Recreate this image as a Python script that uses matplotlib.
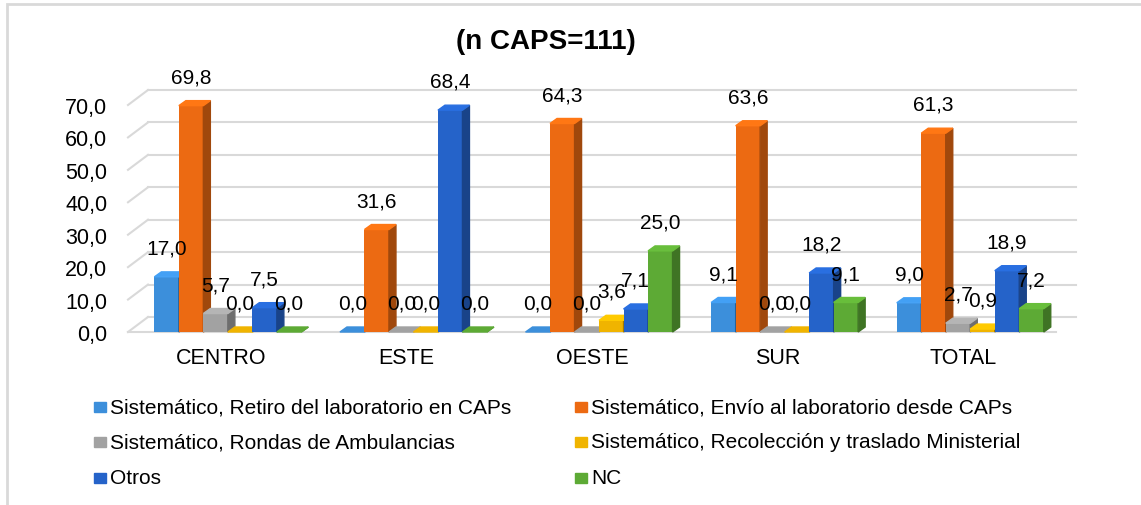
import matplotlib.pyplot as plt
from matplotlib.patches import Polygon, Rectangle
from matplotlib.transforms import offset_copy
import matplotlib.colors as mcolors
import numpy as np

plt.rcParams['font.family'] = ['Liberation Sans', 'DejaVu Sans']

# datos
regiones = ["CENTRO", "ESTE", "OESTE", "SUR", "TOTAL"]
series = [
    "Sistemático, Retiro del laboratorio en CAPs",
    "Sistemático, Envío al laboratorio desde CAPs",
    "Sistemático, Rondas de Ambulancias",
    "Sistemático, Recolección y traslado Ministerial",
    "Otros",
    "NC",
]
retiro = [17.0, 0.0, 0.0, 9.1, 9.0]
envio = [69.8, 31.6, 64.3, 63.6, 61.3]
rondas = [5.7, 0.0, 0.0, 0.0, 2.7]
recoleccion = [0.0, 0.0, 3.6, 0.0, 0.9]
otros = [7.5, 68.4, 7.1, 18.2, 18.9]
nc = [0.0, 0.0, 25.0, 9.1, 7.2]
valores = [retiro, envio, rondas, recoleccion, otros, nc]
yticks = [0, 10, 20, 30, 40, 50, 60, 70]

colores = ["#3C8FDB", "#EC6A12", "#A2A2A2", "#F0B400", "#2563C9", "#5DAA35"]

W, H = 1141, 506
fig = plt.figure(figsize=(W/100, H/100), dpi=100)
# marco del gráfico
fig.patches.append(Rectangle((7/W, -0.2), 1.2, 1.2-5/H, transform=fig.transFigure,
                             fill=False, edgecolor="#D9D9D9", linewidth=2))

left, right, bottom, top = 128, 1056, 333, 106
ax = fig.add_axes([left/W, 1-bottom/H, (right-left)/W, (bottom-top)/H])
ax.set_xlim(-0.5, 4.5)
ax.set_ylim(0, 70)
for s in ax.spines.values():
    s.set_visible(False)

# pixeles -> unidades de datos
ppx = 5/(right-left)
ppy = 70/(bottom-top)

# paredes / grilla con perspectiva
wall_dx, wall_dy = 20, 15
wall = offset_copy(ax.transData, fig=fig, x=wall_dx, y=wall_dy, units='dots')
for v in yticks:
    ax.plot([-0.5, 4.5], [v, v], color="#D9D9D9", lw=1.5, transform=wall,
            clip_on=False, zorder=0)
    ax.plot([-0.5, -0.5+wall_dx*ppx], [v, v+wall_dy*ppy], color="#D9D9D9",
            lw=1.5, clip_on=False, zorder=0)
ax.plot([-0.5, 4.5], [0, 0], color="#D9D9D9", lw=1.5, clip_on=False, zorder=0)

# barras 3D
bw = 0.132
shift = 0.038
dx, dy = 7*ppx, 5*ppy
x = np.arange(len(regiones))
for j, (vals, col) in enumerate(zip(valores, colores)):
    pos = x + shift + (j-2.5)*bw
    base = np.array(mcolors.to_rgb(col))
    side = base*0.68
    topc = np.clip(base*1.12, 0, 1)
    ax.bar(pos, vals, width=bw, color=col, clip_on=False, zorder=2+j,
           edgecolor="none")
    for p, v in zip(pos, vals):
        x0, x1 = p-bw/2, p+bw/2
        ax.add_patch(Polygon([(x1, 0), (x1, v), (x1+dx, v+dy), (x1+dx, dy)],
                             closed=True, color=side, clip_on=False, zorder=2+j))
        ax.add_patch(Polygon([(x0, v), (x1, v), (x1+dx, v+dy), (x0+dx, v+dy)],
                             closed=True, color=topc if v > 0 else col,
                             clip_on=False, zorder=2+j))
        ax.annotate(f"{v:.1f}".replace(".", ","), (p, v), xytext=(0, 14),
                    textcoords="offset points", ha="center", va="bottom",
                    fontsize=15, zorder=20, annotation_clip=False)

ax.set_yticks(yticks)
ax.set_yticklabels([f"{v:.1f}".replace(".", ",") for v in yticks], fontsize=15.5)
ax.set_xticks(x)
ax.set_xticklabels(regiones, fontsize=15.5)
ax.tick_params(axis="y", length=0, pad=15)
ax.tick_params(axis="x", length=0, pad=11)
ax.patch.set_visible(False)

fig.text(0.478, 1-42/H, "(n CAPS=111)", fontsize=20, fontweight="bold",
         ha="center", va="center")

# leyenda
cols_x = [94, 575]
rows_y = [408, 443, 479]
for k, (nombre, col) in enumerate(zip(series, colores)):
    cx = cols_x[k % 2]
    cy = rows_y[k // 2]
    fig.patches.append(Rectangle((cx/W, 1-(cy+5)/H), 12/W, 10/H,
                                 transform=fig.transFigure, color=col))
    fig.text((cx+16)/W, 1-cy/H, nombre, fontsize=15, ha="left", va="center")

fig.savefig("out.png", dpi=100)
